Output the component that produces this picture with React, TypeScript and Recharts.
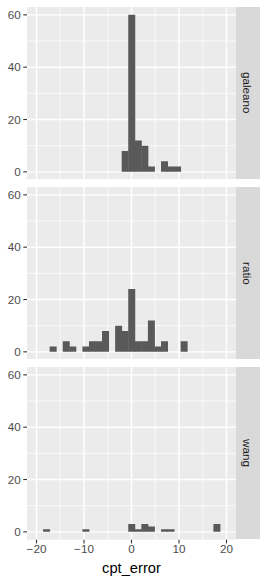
import React from 'react';
import { BarChart, Bar, XAxis, YAxis, CartesianGrid } from 'recharts';

// Histogram bin centres (binwidth ~1.38), shared by all three facets.
const binCenters = [
  -19.31, -17.93, -16.55, -15.17, -13.79, -12.41, -11.03, -9.65, -8.27, -6.9,
  -5.52, -4.14, -2.76, -1.38, 0, 1.38, 2.76, 4.14, 5.52, 6.9,
  8.27, 9.65, 11.03, 12.41, 13.79, 15.17, 16.55, 17.93, 19.31,
];

// Counts per bin for each method.
const galeanoCounts = [0, 0, 0, 0, 0, 0, 0, 0, 0, 0, 0, 0, 0, 8, 60, 12, 10, 2, 0, 4, 2, 2, 0, 0, 0, 0, 0, 0, 0];
const ratioCounts = [0, 0, 2, 0, 4, 2, 0, 2, 4, 4, 8, 0, 10, 8, 24, 4, 4, 12, 2, 4, 0, 0, 4, 0, 0, 0, 0, 0, 0];
const wangCounts = [0, 1, 0, 0, 0, 0, 0, 1, 0, 0, 0, 0, 0, 0, 3, 1, 3, 2, 0, 1, 1, 0, 0, 0, 0, 0, 0, 3, 0];

const facetLabels = ['galeano', 'ratio', 'wang'];
const facetCounts = [galeanoCounts, ratioCounts, wangCounts];

const xTicks = [-20, -10, 0, 10, 20];
const xMinor = [-15, -5, 5, 15];
const yTicks = [0, 20, 40, 60];
const yMinor = [10, 30, 50];

const FONT = '"Liberation Sans", Arial, sans-serif';
const PANEL_H = 172.7;
const PANEL_TOPS = [6.7, 186.7, 366.7];
const PLOT_W = 236;

const fmtMinus = (v: number) => String(v).replace('-', '\u2212');

function Panel({ counts, label, top, last }: { counts: number[]; label: string; top: number; last: boolean }) {
  const data = binCenters.map((x, i) => ({ x, count: counts[i] }));
  const height = last ? 581 - top : PANEL_H;
  return (
    <>
      <div style={{ position: 'absolute', left: 0, top }}>
        <BarChart
          width={PLOT_W}
          height={height}
          data={data}
          margin={{ top: 0, right: 0, bottom: 0, left: 0 }}
          barCategoryGap={0}
          barGap={0}
        >
          {/* minor grid + panel background */}
          <CartesianGrid
            fill="#EBEBEB"
            stroke="#FFFFFF"
            strokeWidth={0.7}
            horizontalValues={yMinor}
            verticalValues={xMinor}
          />
          {/* major grid */}
          <CartesianGrid
            fill="none"
            stroke="#FFFFFF"
            strokeWidth={1.4}
            horizontalValues={yTicks}
            verticalValues={xTicks}
          />
          <XAxis
            type="number"
            dataKey="x"
            domain={[-22, 22]}
            allowDataOverflow
            ticks={xTicks}
            interval={0}
            hide={!last}
            height={height - PANEL_H}
            axisLine={false}
            tickSize={3.7}
            tickMargin={1.5}
            tickLine={{ stroke: '#333333', strokeWidth: 1.1 }}
            tick={{ fill: '#4D4D4D', fontSize: 11.7, fontFamily: FONT }}
            tickFormatter={fmtMinus}
            label={{
              value: 'cpt_error',
              position: 'insideBottom',
              offset: 8.5,
              fill: '#000000',
              fontSize: 14.7,
              fontFamily: FONT,
            }}
          />
          <YAxis
            type="number"
            domain={[-3, 63]}
            allowDataOverflow
            ticks={yTicks}
            interval={0}
            width={27}
            axisLine={false}
            tickSize={3.7}
            tickMargin={2.5}
            tickLine={{ stroke: '#333333', strokeWidth: 1.1 }}
            tick={{ fill: '#4D4D4D', fontSize: 11.7, fontFamily: FONT }}
          />
          <Bar dataKey="count" fill="#595959" isAnimationActive={false} />
        </BarChart>
      </div>
      {/* facet strip on the right */}
      <div
        style={{
          position: 'absolute',
          left: PLOT_W,
          top,
          width: 23.5,
          height: PANEL_H,
          background: '#D9D9D9',
          display: 'flex',
          alignItems: 'center',
          justifyContent: 'center',
        }}
      >
        <span style={{ writingMode: 'vertical-rl', fontSize: 11.7, color: '#1A1A1A', fontFamily: FONT }}>{label}</span>
      </div>
    </>
  );
}

export default function App() {
  return (
    <div style={{ position: 'absolute', left: 0, top: 0, width: 267, height: 581, background: '#FFFFFF', fontFamily: FONT }}>
      {facetLabels.map((label, i) => (
        <Panel key={label} counts={facetCounts[i]} label={label} top={PANEL_TOPS[i]} last={i === facetLabels.length - 1} />
      ))}
    </div>
  );
}
